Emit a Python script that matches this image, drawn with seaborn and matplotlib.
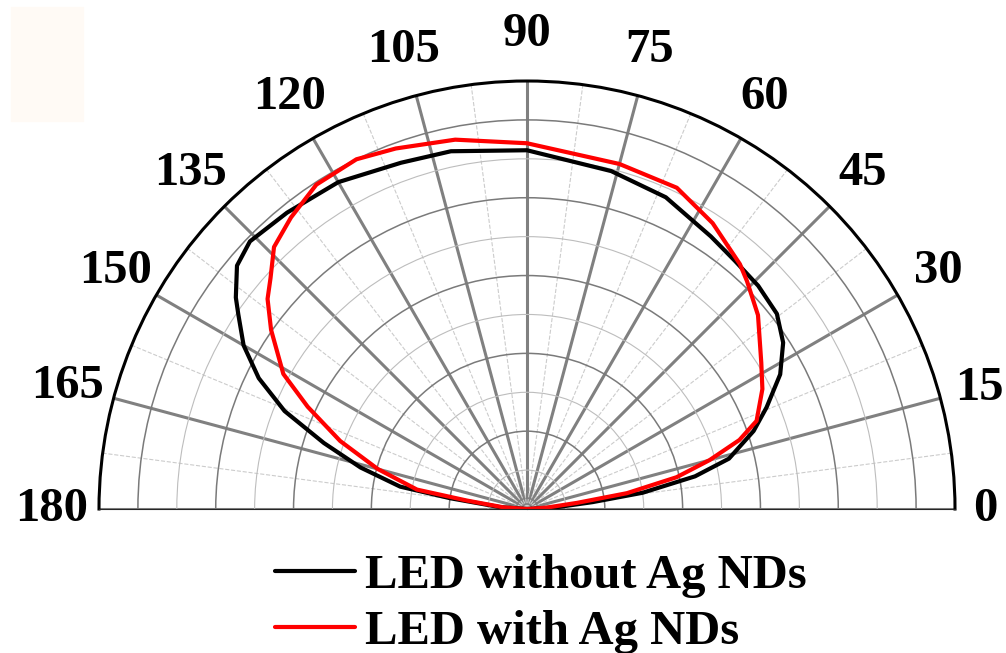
import numpy as np
import matplotlib
matplotlib.use("Agg")
import matplotlib.pyplot as plt
import seaborn as sns
from matplotlib.ticker import MultipleLocator
from matplotlib.patches import Rectangle

# emission angle (deg) and relative intensity
ang_without = [0, 3, 6, 8, 11, 14, 19, 23, 28, 33, 38, 44, 50, 56, 66, 76, 90,
               102, 110, 120, 129, 136, 140, 144, 146, 150, 154, 158, 162, 166,
               170, 172, 176, 180]
int_without = [0, 0.07, 0.17, 0.30, 0.44, 0.535, 0.616, 0.669, 0.737, 0.785,
               0.815, 0.826, 0.832, 0.845, 0.877, 0.895, 0.922, 0.94, 0.947,
               0.97, 0.98, 0.99, 0.973, 0.925, 0.895, 0.841, 0.767, 0.672,
               0.549, 0.441, 0.331, 0.2, 0.07, 0]

ang_with = [0, 4, 7, 9, 12, 15, 18, 21, 27, 32, 40, 43, 46, 49, 57, 65, 75, 90,
            101, 110, 116, 123, 129, 134, 138, 141, 145, 151, 155, 160, 165,
            170, 172, 176, 180]
int_with = [0, 0.05, 0.13, 0.26, 0.393, 0.486, 0.574, 0.632, 0.679, 0.71,
            0.775, 0.793, 0.814, 0.834, 0.876, 0.911, 0.918, 0.94, 0.967,
            0.986, 1.0, 0.994, 0.964, 0.936, 0.887, 0.858, 0.803, 0.716,
            0.622, 0.511, 0.397, 0.287, 0.156, 0.06, 0]

label_without = "LED without Ag NDs"
label_with = "LED with Ag NDs"
angle_ticks = list(range(0, 181, 15))

sns.set_style("white")
plt.rcParams["font.family"] = ["Liberation Serif", "DejaVu Serif"]
plt.rcParams["font.weight"] = "bold"
plt.rcParams["text.color"] = "black"
plt.rcParams["xtick.labelcolor"] = "black"

fig = plt.figure(figsize=(10.06, 6.53), dpi=100)
fig.add_artist(Rectangle((11 / 1006, 1 - 121 / 653), 72 / 1006, 114 / 653,
                         transform=fig.transFigure, color="#fffaf5", zorder=0))

# square box: the half disc fills its width and sits in its middle
ax = fig.add_axes([99 / 1006, -70 / 653, 856 / 1006, 856 / 653], projection="polar")
ax.set_thetamin(0)
ax.set_thetamax(180)
ax.set_ylim(0, 1.1)

# curves
sns.lineplot(x=np.deg2rad(ang_without), y=int_without, ax=ax, sort=False,
             estimator=None, color="black", lw=3, label=label_without, legend=False)
sns.lineplot(x=np.deg2rad(ang_with), y=int_with, ax=ax, sort=False,
             estimator=None, color="#ff0000", lw=3, label=label_with, legend=False)

# grid and ticks
ax.set_xticks(np.deg2rad(angle_ticks))
ax.set_xticklabels([str(a) for a in angle_ticks])
ax.xaxis.set_minor_locator(MultipleLocator(np.deg2rad(7.5)))
ax.set_yticks([0.2, 0.4, 0.6, 0.8, 1.0])
ax.yaxis.set_minor_locator(MultipleLocator(0.1))
ax.set_yticklabels([])
ax.grid(which="major", axis="x", color="#808080", lw=2.2, ls="-")
ax.grid(which="minor", axis="x", color="#cccccc", lw=0.8, ls="--")
ax.grid(which="major", axis="y", color="#7a7a7a", lw=1.1, ls="-")
ax.grid(which="minor", axis="y", color="#bdbdbd", lw=0.8, ls="-")
ax.tick_params(axis="x", which="major", direction="in", length=11, width=2,
               color="black", pad=27, labelsize=35, labelcolor="black")
ax.tick_params(axis="x", which="minor", direction="in", length=5, width=1.6,
               color="black")
ax.tick_params(axis="y", which="both", length=0)
ax.spines["polar"].set_linewidth(2.2)
ax.spines["polar"].set_color("black")
ax.spines["start"].set_visible(False)
ax.spines["end"].set_visible(False)
ax.set_xlabel("")
ax.set_ylabel("")

# "0" and "15" sit a bit closer to the arc than the others
major_ticks = ax.xaxis.get_major_ticks()
major_ticks[0].set_pad(15)
major_ticks[1].set_pad(22)

handles, labels = ax.get_legend_handles_labels()
fig.legend(handles, labels, loc="center left", bbox_to_anchor=(0.273, 0.075),
           frameon=False, fontsize=35, handlelength=1.65, handletextpad=0.2,
           labelspacing=0.25, borderpad=0, borderaxespad=0, labelcolor="black")

fig.savefig("out.png", dpi=100)
